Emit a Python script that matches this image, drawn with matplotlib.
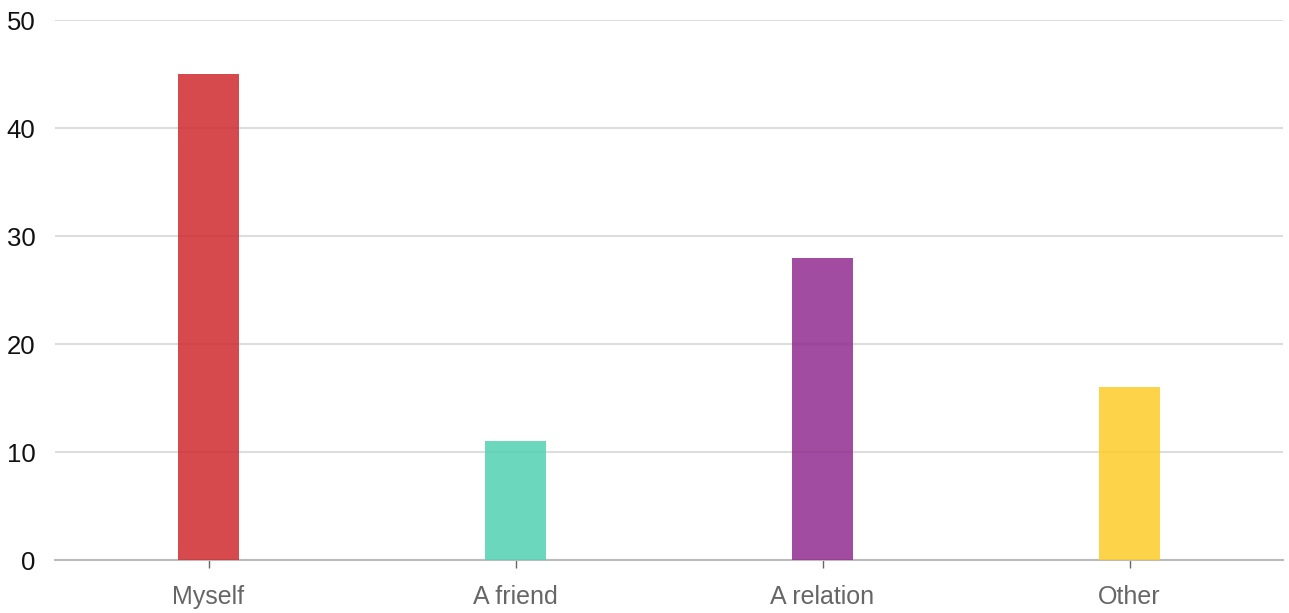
import matplotlib
matplotlib.use("Agg")
import matplotlib.pyplot as plt
from matplotlib import font_manager

categories = ["Myself", "A friend", "A relation", "Other"]
values = [45, 11, 28, 16]
colors = ["#cf2a2f", "#51d2b2", "#912c8f", "#fdcc2a"]
yticks = [0, 10, 20, 30, 40, 50]

names = {f.name for f in font_manager.fontManager.ttflist}
fam = "Liberation Sans Narrow" if "Liberation Sans Narrow" in names else "Liberation Sans"
plt.rcParams["font.family"] = [fam, "DejaVu Sans"]

W, H = 1289, 613
fig = plt.figure(figsize=(W / 100, H / 100), dpi=100)
ax = fig.add_axes([55 / W, (H - 560) / H, (1283 - 55) / W, (560 - 20) / H])

x = list(range(len(categories)))
ax.bar(x, values, width=0.2, color=colors, alpha=0.85, zorder=3)

ax.set_xlim(-0.5, len(categories) - 0.5)
ax.set_ylim(0, 50)
ax.set_yticks(yticks)
ax.set_yticklabels([str(t) for t in yticks], fontsize=18.5, color="#111111")
ax.set_xticks(x)
ax.set_xticklabels(categories, fontsize=18, color="#666666")
ax.tick_params(axis="y", length=0, pad=14)
ax.tick_params(axis="x", length=6, color="#666666", width=1, pad=12)
ax.grid(axis="y", color="#dddddd", linewidth=1.5, zorder=0)
ax.set_axisbelow(True)
for s in ["top", "right", "left"]:
    ax.spines[s].set_visible(False)
ax.spines["bottom"].set_color("#bbbbbb")
ax.spines["bottom"].set_linewidth(1.5)
ax.spines["bottom"].set_zorder(2)

fig.savefig("out.png", dpi=100)
